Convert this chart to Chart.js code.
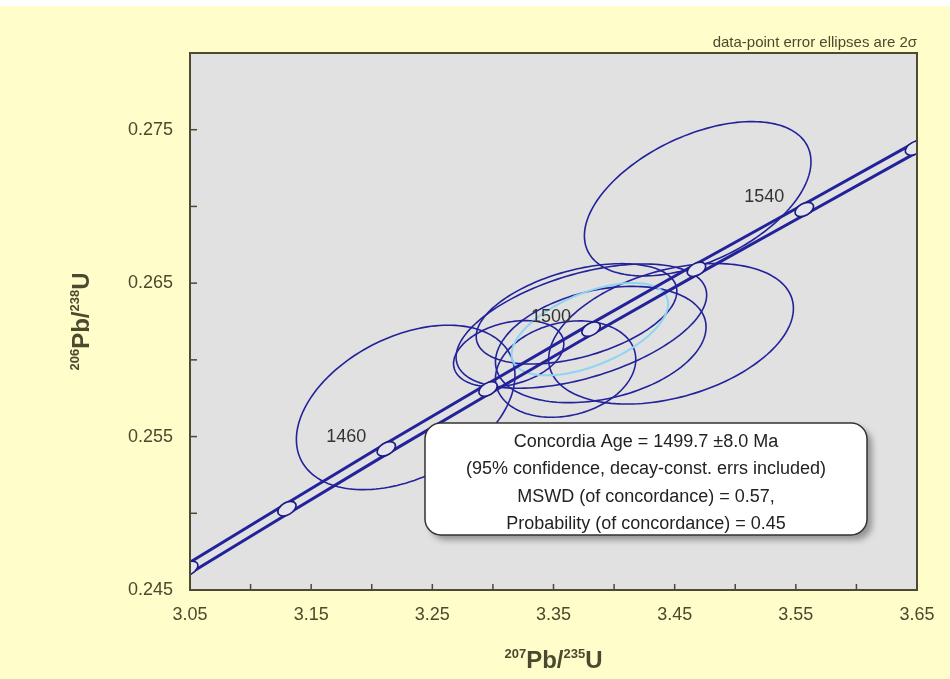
<!DOCTYPE html>
<html>
<head>
<meta charset="utf-8">
<script src="https://cdn.jsdelivr.net/npm/chart.js@4.4.1/dist/chart.umd.min.js"></script>
<style>
  html, body { margin: 0; padding: 0; background: #fffdc9; }
  #wrap { width: 950px; height: 679px; }
</style>
</head>
<body>
<div id="wrap"><canvas id="concordia" width="950" height="679"></canvas></div>
<script>
// Concordia curve (age in Ma)
const ages = [1400, 1420, 1440, 1460, 1480, 1500, 1520, 1540, 1560, 1580];
const concX = [2.970, 3.049, 3.130, 3.212, 3.296, 3.381, 3.468, 3.557, 3.648, 3.740];
const concY = [0.2426, 0.2464, 0.2503, 0.2542, 0.2581, 0.2620, 0.2659, 0.2698, 0.2738, 0.2778];
const bandHalf = 0.00036;   // decay-constant error band, half width in 206/238
const labeledAges = [1460, 1500, 1540];

// Data-point error ellipses: centre, 2 sigma errors, error correlation
const ellX    = [3.228, 3.469, 3.447, 3.373, 3.389, 3.313, 3.360, 3.369];
const ellY    = [0.2569, 0.2705, 0.2617, 0.2622, 0.2610, 0.2604, 0.2594, 0.2630];
const ellErrX = [0.0902, 0.0935, 0.1010, 0.1034, 0.0869, 0.0455, 0.0579, 0.0828];
const ellErrY = [0.00536, 0.00503, 0.00458, 0.00405, 0.00379, 0.00216, 0.00314, 0.00327];
const ellRho  = [0.39, 0.48, 0.36, 0.50, 0.30, 0.30, 0.20, 0.45];

// Concordia age ellipse
const meanX = 3.380, meanY = 0.2620, meanErrX = 0.0646, meanErrY = 0.00301, meanRho = 0.55;

// Axis ticks
const xMin = 3.05, xMax = 3.65, xStep = 0.05;
const yMin = 0.245, yMax = 0.280, yStep = 0.005;

const boxLines = [
    'Concordia Age = 1499.7 \u00b18.0 Ma',
    '(95% confidence, decay-const. errs included)',
    'MSWD (of concordance) = 0.57,',
    'Probability (of concordance) = 0.45'
];
const noteText = 'data-point error ellipses are 2\u03c3';

const inkColor = '#4a4a2e';
const lineBlue = '#22229a';
const FONT = "'Liberation Sans', Arial, sans-serif";

function traceEllipse(ctx, xs, ys, cx, cy, ex, ey, rho) {
    const s = Math.sqrt(1 - rho * rho);
    ctx.beginPath();
    for (let k = 0; k <= 160; k++) {
        const t = k / 160 * Math.PI * 2;
        const px = xs.getPixelForValue(cx + ex * Math.cos(t));
        const py = ys.getPixelForValue(cy + ey * (rho * Math.cos(t) + s * Math.sin(t)));
        if (k === 0) ctx.moveTo(px, py); else ctx.lineTo(px, py);
    }
    ctx.closePath();
}

function drawSupText(ctx, parts, x, y) {
    // parts: [text, isSup]; centred on x, baseline y
    let total = 0;
    parts.forEach(p => {
        ctx.font = p[1] ? "bold 13px " + FONT : "bold 24px " + FONT;
        total += ctx.measureText(p[0]).width;
    });
    let cx = x - total / 2;
    parts.forEach(p => {
        ctx.font = p[1] ? "bold 13px " + FONT : "bold 24px " + FONT;
        ctx.fillText(p[0], cx, p[1] ? y - 10 : y);
        cx += ctx.measureText(p[0]).width;
    });
}

const backdrop = {
    id: 'backdrop',
    beforeDraw(chart) {
        const { ctx, chartArea: a } = chart;
        ctx.save();
        ctx.fillStyle = '#fffdc9';
        ctx.fillRect(0, 0, chart.width, chart.height);
        ctx.fillStyle = '#ffffff';
        ctx.fillRect(0, 0, chart.width, 6);
        ctx.fillStyle = '#e1e1e1';
        ctx.fillRect(a.left, a.top, a.right - a.left, a.bottom - a.top);
        ctx.restore();
    },
    beforeDatasetsDraw(chart) {
        const { ctx, chartArea: a, scales: { x, y } } = chart;
        ctx.save();
        ctx.beginPath();
        ctx.rect(a.left, a.top, a.right - a.left, a.bottom - a.top);
        ctx.clip();
        ctx.lineWidth = 1.6;
        ctx.strokeStyle = lineBlue;
        for (let i = 0; i < ellX.length; i++) {
            traceEllipse(ctx, x, y, ellX[i], ellY[i], ellErrX[i], ellErrY[i], ellRho[i]);
            ctx.stroke();
        }
        ctx.strokeStyle = '#8fd4f2';
        ctx.lineWidth = 2;
        traceEllipse(ctx, x, y, meanX, meanY, meanErrX, meanErrY, meanRho);
        ctx.stroke();
        ctx.restore();
    },
    afterDatasetsDraw(chart) {
        const { ctx, chartArea: a, scales: { x, y } } = chart;
        ctx.save();
        ctx.beginPath();
        ctx.rect(a.left, a.top, a.right - a.left, a.bottom - a.top);
        ctx.clip();
        // age markers along the concordia
        for (let i = 1; i < ages.length - 1; i++) {
            const px = x.getPixelForValue(concX[i]);
            const py = y.getPixelForValue(concY[i]);
            const ang = Math.atan2(
                y.getPixelForValue(concY[i + 1]) - y.getPixelForValue(concY[i - 1]),
                x.getPixelForValue(concX[i + 1]) - x.getPixelForValue(concX[i - 1]));
            ctx.beginPath();
            ctx.ellipse(px, py, 10, 6, ang, 0, Math.PI * 2);
            ctx.fillStyle = '#e4e4ec';
            ctx.fill();
            ctx.lineWidth = 1.6;
            ctx.strokeStyle = '#1c1c80';
            ctx.stroke();
            if (labeledAges.includes(ages[i])) {
                ctx.fillStyle = '#333333';
                ctx.font = "18px " + FONT;
                ctx.textAlign = 'center';
                ctx.textBaseline = 'middle';
                ctx.fillText(String(ages[i]), px - 40, py - 12);
            }
        }
        ctx.restore();
    },
    afterDraw(chart) {
        const { ctx, chartArea: a, scales: { x, y } } = chart;
        ctx.save();
        // inward tick marks
        ctx.strokeStyle = inkColor;
        ctx.lineWidth = 1.5;
        x.ticks.forEach(t => {
            const px = x.getPixelForValue(t.value);
            if (px <= a.left + 1 || px >= a.right - 1) return;
            ctx.beginPath(); ctx.moveTo(px, a.bottom); ctx.lineTo(px, a.bottom - 6); ctx.stroke();
        });
        y.ticks.forEach(t => {
            const py = y.getPixelForValue(t.value);
            if (py <= a.top + 1 || py >= a.bottom - 1) return;
            ctx.beginPath(); ctx.moveTo(a.left, py); ctx.lineTo(a.left + 7, py); ctx.stroke();
        });
        // frame
        ctx.lineWidth = 2;
        ctx.strokeStyle = '#4d4a32';
        ctx.strokeRect(a.left, a.top, a.right - a.left, a.bottom - a.top);

        // result box
        const bx = 425, by = 423, bw = 442, bh = 112;
        ctx.save();
        ctx.shadowColor = 'rgba(0,0,0,0.35)';
        ctx.shadowBlur = 6;
        ctx.shadowOffsetX = 5;
        ctx.shadowOffsetY = 5;
        ctx.beginPath();
        ctx.roundRect(bx, by, bw, bh, 16);
        ctx.fillStyle = '#ffffff';
        ctx.fill();
        ctx.restore();
        ctx.beginPath();
        ctx.roundRect(bx, by, bw, bh, 16);
        ctx.lineWidth = 1.5;
        ctx.strokeStyle = '#333333';
        ctx.stroke();
        ctx.fillStyle = '#222222';
        ctx.font = "18px " + FONT;
        ctx.textAlign = 'center';
        ctx.textBaseline = 'middle';
        boxLines.forEach((l, i) => ctx.fillText(l, bx + bw / 2, by + 19 + i * 27.5));

        // note above the plot
        ctx.fillStyle = inkColor;
        ctx.font = "15px 'Liberation Sans Narrow', " + FONT;
        ctx.textAlign = 'right';
        ctx.textBaseline = 'alphabetic';
        ctx.fillText(noteText, a.right, a.top - 6);

        // axis titles
        ctx.textAlign = 'left';
        drawSupText(ctx, [['207', true], ['Pb/', false], ['235', true], ['U', false]], (a.left + a.right) / 2, 668);
        ctx.translate(89, (a.top + a.bottom) / 2);
        ctx.rotate(-Math.PI / 2);
        drawSupText(ctx, [['206', true], ['Pb/', false], ['238', true], ['U', false]], 0, 0);
        ctx.restore();
    }
};

const bandUpper = concX.map((v, i) => ({ x: v, y: concY[i] + bandHalf }));
const bandLower = concX.map((v, i) => ({ x: v, y: concY[i] - bandHalf }));

new Chart(document.getElementById('concordia'), {
    type: 'scatter',
    data: {
        datasets: [
            { label: 'band upper', data: bandUpper, showLine: true, borderColor: lineBlue, borderWidth: 3, pointRadius: 0, fill: false },
            { label: 'band lower', data: bandLower, showLine: true, borderColor: lineBlue, borderWidth: 3, pointRadius: 0, fill: false }
        ]
    },
    options: {
        responsive: false,
        animation: false,
        layout: { padding: { top: 53, right: 33, left: 0, bottom: 0 } },
        plugins: { legend: { display: false }, tooltip: { enabled: false } },
        scales: {
            x: {
                type: 'linear', min: xMin, max: xMax,
                grid: { display: false },
                border: { display: false },
                ticks: {
                    stepSize: xStep, autoSkip: false, maxRotation: 0, padding: 6,
                    color: inkColor, font: { family: FONT, size: 18 },
                    callback: v => (Math.round(v * 100) % 10 === 5 ? v.toFixed(2) : '')
                },
                afterFit: s => { s.height = 89; }
            },
            y: {
                type: 'linear', min: yMin, max: yMax,
                grid: { display: false },
                border: { display: false },
                ticks: {
                    stepSize: yStep, autoSkip: false, padding: 9,
                    color: inkColor, font: { family: FONT, size: 18 },
                    callback: v => (Math.round(v * 1000) % 10 === 5 ? v.toFixed(3) : '')
                },
                afterFit: s => { s.width = 190; }
            }
        }
    },
    plugins: [backdrop]
});
</script>
</body>
</html>
